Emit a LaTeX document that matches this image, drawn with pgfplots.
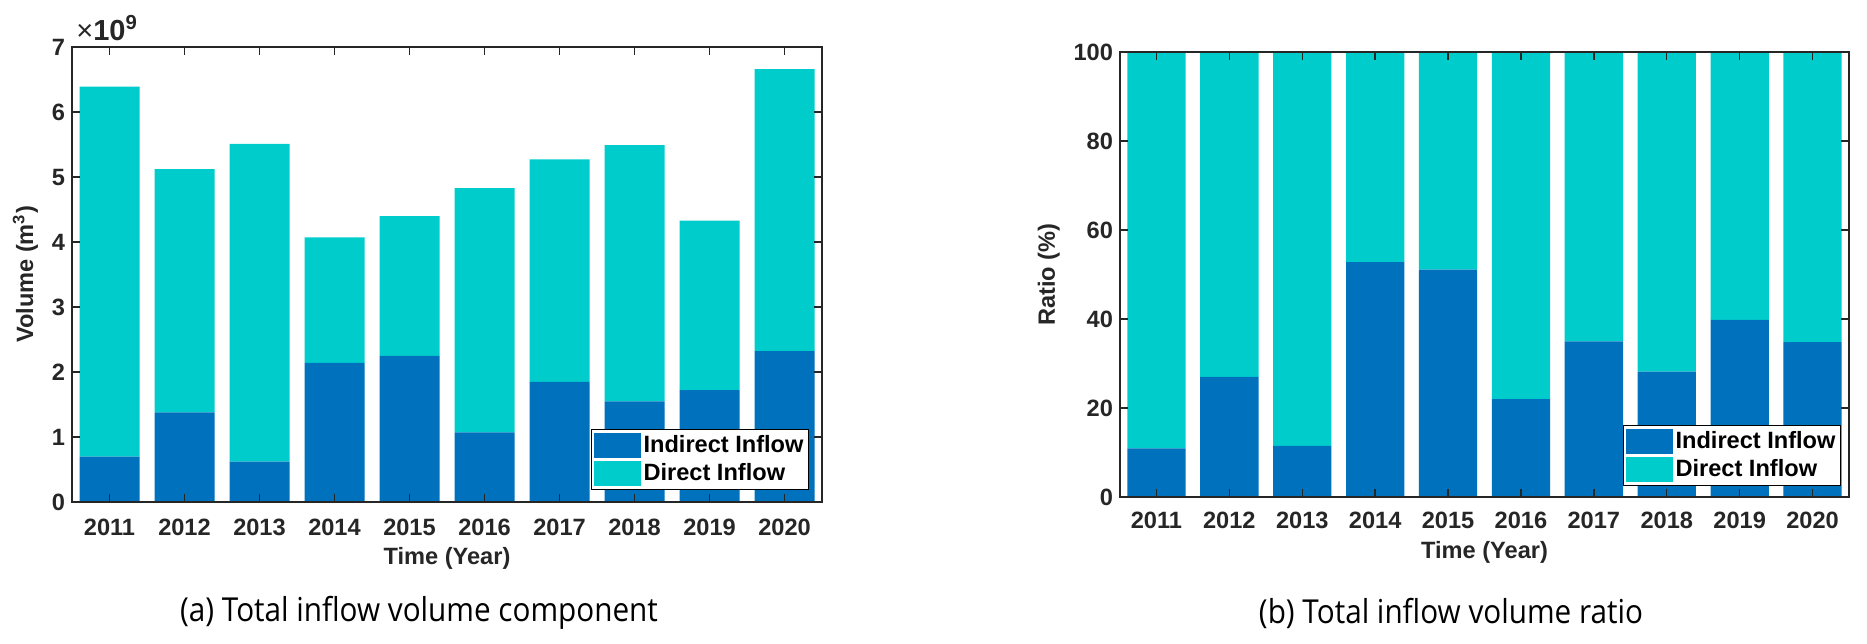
\documentclass[border=0pt]{standalone}
\usepackage{fontspec}
\setmainfont{Liberation Sans}
\newfontfamily\capfont{Open Sans}[FakeStretch=0.9]
\usepackage{pgfplots}
\pgfplotsset{compat=1.18}
\definecolor{indir}{RGB}{0,114,189}
\definecolor{dir}{RGB}{0,204,204}
\definecolor{axgray}{RGB}{38,38,38}

\pgfplotsset{matbar/.style={
  scale only axis,
  ybar stacked, bar width=0.8,
  xmin=0.5, xmax=10.5,
  xtick={1,2,3,4,5,6,7,8,9,10},
  xticklabels={2011,2012,2013,2014,2015,2016,2017,2018,2019,2020},
  xtick pos=both, ytick pos=both,
  tick align=inside, major tick length=4pt,
  axis on top,
  axis line style={axgray, line width=0.7pt},
  every tick/.style={axgray, line width=0.7pt},
  tick label style={font=\bfseries\fontsize{11.8}{12}\selectfont, text=axgray},
  label style={font=\bfseries\fontsize{11.8}{12}\selectfont, text=axgray},
  /pgf/number format/assume math mode=true,
  legend cell align=left,
  legend style={draw=black, line width=0.5pt, fill=white,
    font=\bfseries\fontsize{11.8}{12}\selectfont,
    inner xsep=1pt, inner ysep=1pt, row sep=0pt,
    nodes={inner xsep=1.5pt, inner ysep=2pt}},
  legend image code/.code={\fill[#1] (0pt,-6.5pt) rectangle (23.5pt,6pt);},
}}

\begin{document}
\begin{tikzpicture}
\path[use as bounding box] (0,0) rectangle (933.5pt,321.5pt);

% (a) volumes, in units of 1e9 m^3
\begin{axis}[matbar,
  at={(36pt,70.5pt)}, anchor=south west,
  width=375pt, height=227.5pt,
  clip=false,
  ymin=0, ymax=7, ytick={0,1,2,3,4,5,6,7},
  xticklabel style={anchor=center, yshift=-12.5pt},
  xlabel={Time (Year)},
  xlabel style={at={(rel axis cs:0.5,0)}, anchor=center, yshift=-28pt},
  ylabel={Volume (m\textsuperscript{3})},
  legend style={at={(1,0)}, anchor=south east, xshift=-6.5pt, yshift=6pt},
]
\addplot[fill=indir, draw=none] coordinates {
  (1,0.70) (2,1.38) (3,0.62) (4,2.14) (5,2.25)
  (6,1.07) (7,1.85) (8,1.55) (9,1.72) (10,2.32)};
\addplot[fill=dir, draw=none] coordinates {
  (1,5.69) (2,3.74) (3,4.89) (4,1.93) (5,2.15)
  (6,3.76) (7,3.42) (8,3.94) (9,2.61) (10,4.34)};
\legend{Indirect Inflow, Direct Inflow}
\node[anchor=south west, inner sep=0pt, text=axgray, font=\fontsize{14.5}{15}\selectfont]
  at (rel axis cs:0,1) [xshift=2pt, yshift=3pt] {×\textbf{10}\textsuperscript{\bfseries 9}};
\end{axis}

% (b) ratios
\begin{axis}[matbar,
  at={(560pt,73pt)}, anchor=south west,
  width=364.5pt, height=222.5pt,
  ymin=0, ymax=100, ytick={0,20,40,60,80,100},
  xticklabel style={anchor=center, yshift=-11.5pt},
  xlabel={Time (Year)},
  xlabel style={at={(rel axis cs:0.5,0)}, anchor=center, yshift=-27.5pt},
  ylabel={Ratio (\%)},
  legend style={at={(1,0)}, anchor=south east, xshift=-4pt, yshift=5.5pt},
]
\addplot[fill=indir, draw=none] coordinates {
  (1,10.9) (2,27.0) (3,11.5) (4,52.8) (5,51.1)
  (6,22.0) (7,35.0) (8,28.2) (9,39.8) (10,34.8)};
\addplot[fill=dir, draw=none] coordinates {
  (1,89.1) (2,73.0) (3,88.5) (4,47.2) (5,48.9)
  (6,78.0) (7,65.0) (8,71.8) (9,60.2) (10,65.2)};
\legend{Indirect Inflow, Direct Inflow}
\end{axis}

\node[font=\capfont\fontsize{16.5}{17}\selectfont] at (209.5pt,15pt) {(a) Total inflow volume component};
\node[font=\capfont\fontsize{16.5}{17}\selectfont] at (725.5pt,15pt) {(b) Total inflow volume ratio};
\end{tikzpicture}
\end{document}
